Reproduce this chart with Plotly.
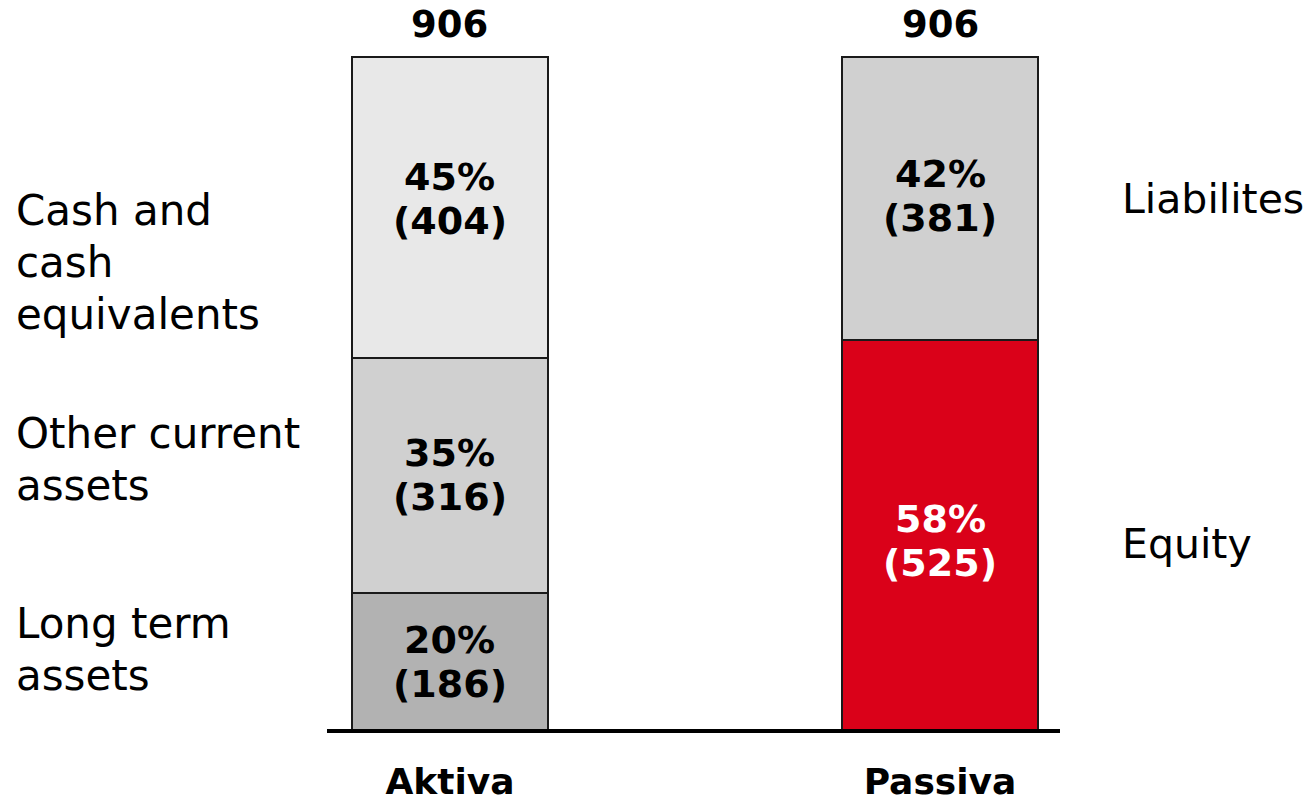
import plotly.graph_objects as go

# ---------------- data ----------------
categories = ["Aktiva", "Passiva"]
totals = [906, 906]

aktiva_labels = ["Long term\nassets", "Other current\nassets", "Cash and\ncash\nequivalents"]
aktiva_values = [186, 316, 404]
aktiva_pct = [20, 35, 45]
aktiva_colors = ["#B2B2B2", "#D0D0D0", "#E8E8E8"]

passiva_labels = ["Equity", "Liabilites"]
passiva_values = [525, 381]
passiva_pct = [58, 42]
passiva_colors = ["#DA0119", "#D0D0D0"]
passiva_text_colors = ["white", "black"]

FONT = "DejaVu Sans"

fig = go.Figure()
annotations = []


def add_lines(text, x, xref, y, yshift, xanchor, size, color, bold, spacing):
    lines = text.split("\n")
    n = len(lines)
    for i, line in enumerate(lines):
        off = ((n - 1) / 2 - i) * spacing
        annotations.append(dict(
            x=x, xref=xref, y=y, yref="y",
            text=f"<b>{line}</b>" if bold else line,
            showarrow=False, xanchor=xanchor, yanchor="middle",
            yshift=yshift + off,
            font=dict(family=FONT, size=size, color=color),
        ))


# label pixel offsets (relative to segment middle)
aktiva_side_shift = [12, 16, -55]
passiva_side_shift = [-8, 0]
aktiva_inner_shift = [0, 0, 8]
passiva_inner_shift = [-5, 3]

# Aktiva stack
base = 0
for lab, v, p, c, sh, ish in zip(aktiva_labels, aktiva_values, aktiva_pct, aktiva_colors,
                                 aktiva_side_shift, aktiva_inner_shift):
    fig.add_trace(go.Bar(
        x=[0], y=[v], width=0.4, marker=dict(color=c, line=dict(color="#1a1a1a", width=2)),
        hoverinfo="skip", showlegend=False,
    ))
    mid = base + v / 2
    add_lines(f"{p}%\n({v})", 0, "x", mid, ish, "center", 38, "black", True, 44)
    add_lines(lab, -0.427, "paper", mid, sh, "left", 42, "black", False, 52)
    base += v

# Passiva stack
base = 0
for lab, v, p, c, tc, sh, ish in zip(passiva_labels, passiva_values, passiva_pct, passiva_colors,
                                     passiva_text_colors, passiva_side_shift, passiva_inner_shift):
    fig.add_trace(go.Bar(
        x=[1], y=[v], width=0.4, marker=dict(color=c, line=dict(color="#1a1a1a", width=2)),
        hoverinfo="skip", showlegend=False,
    ))
    mid = base + v / 2
    add_lines(f"{p}%\n({v})", 1, "x", mid, ish, "center", 38, tc, True, 44)
    add_lines(lab, 1.0819, "paper", mid, sh, "left", 41, "black", False, 52)
    base += v

# totals above bars
for i, t in enumerate(totals):
    annotations.append(dict(
        x=i, xref="x", y=t, yref="y", text=f"<b>{t}</b>", showarrow=False,
        xanchor="center", yanchor="middle", yshift=33,
        font=dict(family=FONT, size=37, color="black"),
    ))

fig.update_layout(
    barmode="stack",
    width=1312, height=802,
    margin=dict(l=327, r=252, t=20, b=45, autoexpand=False),
    paper_bgcolor="white", plot_bgcolor="white",
    annotations=annotations,
    font=dict(family=FONT),
    shapes=[dict(type="line", xref="paper", x0=0, x1=1, yref="y", y0=0, y1=0,
                 line=dict(color="black", width=4), layer="above")],
    xaxis=dict(range=[-0.2510, 1.2449], tickvals=[0, 1],
               ticktext=[f"<b>{c}</b>" for c in categories],
               tickfont=dict(family=FONT, size=36, color="black"),
               showgrid=False, zeroline=False, showline=False, ticks="",
               automargin=False),
    yaxis=dict(range=[-34.95, 955.73], visible=False, automargin=False),
)

fig.write_html(
    "out.html",
    config={"displayModeBar": False},
    post_script="document.body.style.margin='0';document.body.style.overflow='hidden';",
)
